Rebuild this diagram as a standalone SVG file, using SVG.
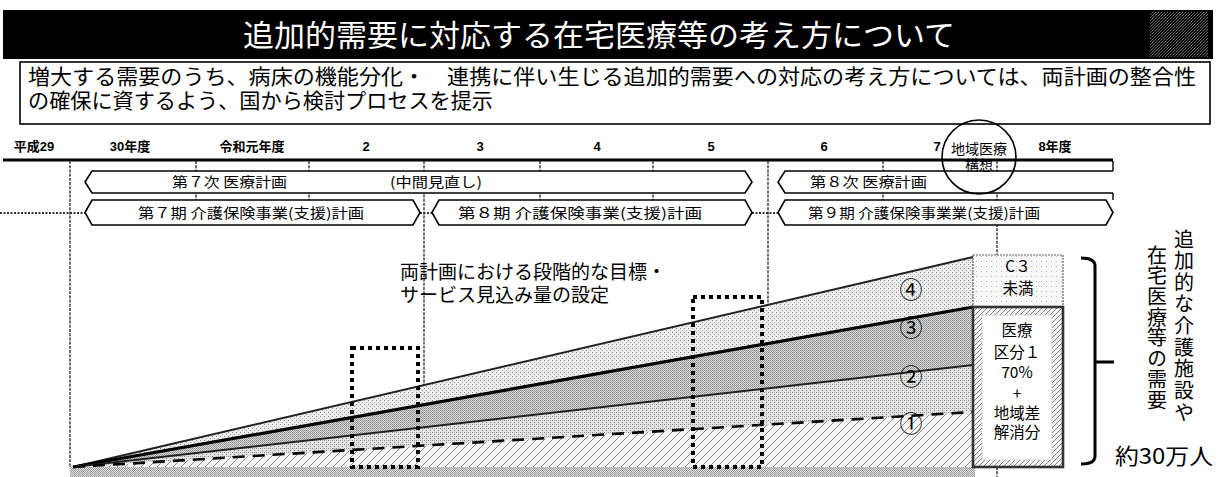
<svg xmlns="http://www.w3.org/2000/svg" width="1218" height="477" viewBox="0 0 1218 477">
<style>
.jp{font-family:"Noto Sans CJK JP","Noto Sans",sans-serif;fill:#000}
.yr{font-family:"Liberation Sans","Noto Sans CJK JP",sans-serif;font-weight:bold;font-size:13px;fill:#000;text-anchor:middle}
.bar{fill:#fff;stroke:#000;stroke-width:1.6}
.bt{font-family:"Noto Sans CJK JP",sans-serif;font-size:14px;fill:#000}
.vd{stroke:#333;stroke-width:1.4;stroke-dasharray:3 1.2;fill:none}
.conn{stroke:#333;stroke-width:2;stroke-dasharray:2 1.5;fill:none}
.dotbox{fill:none;stroke:#000;stroke-width:4;stroke-dasharray:4 4}
.num{font-family:"Noto Sans CJK JP",sans-serif;font-size:23px;fill:#000;text-anchor:middle}
.bx{font-family:"Noto Sans CJK JP",sans-serif;font-size:15.5px;fill:#000;text-anchor:middle}
.vt{font-family:"Noto Sans CJK JP",sans-serif;font-size:20px;fill:#000;writing-mode:vertical-rl}
</style>
<defs>
<pattern id="pDither" width="3" height="3" patternUnits="userSpaceOnUse"><rect width="3" height="3" fill="#000"/><rect width="1" height="1" fill="#777"/><rect x="2" y="1" width="1" height="1" fill="#555"/><rect x="1" y="2" width="1" height="1" fill="#666"/></pattern>
<pattern id="p4" width="4" height="4" patternUnits="userSpaceOnUse"><rect width="4" height="4" fill="#ececec"/><rect width="1" height="1" fill="#8c8c8c"/><rect x="2" y="2" width="1" height="1" fill="#a8a8a8"/></pattern>
<pattern id="p3" width="2" height="2" patternUnits="userSpaceOnUse"><rect width="2" height="2" fill="#dadada"/><rect width="1" height="1" fill="#8a8a8a"/><rect x="1" y="1" width="1" height="1" fill="#9c9c9c"/></pattern>
<pattern id="p2" width="4" height="4" patternUnits="userSpaceOnUse"><rect width="4" height="4" fill="#e2e2e2"/><rect width="1" height="1" fill="#8c8c8c"/><rect x="2" y="2" width="1" height="1" fill="#8c8c8c"/><rect x="2" width="1" height="1" fill="#b0b0b0"/></pattern>
<pattern id="p1" width="8" height="8" patternUnits="userSpaceOnUse"><rect width="8" height="8" fill="#f3f3f3"/><path d="M0,8 L8,0 M-2,2 L2,-2 M6,10 L10,6" stroke="#8a8a8a" stroke-width="1"/></pattern>
<pattern id="pBand" width="2" height="2" patternUnits="userSpaceOnUse"><rect width="2" height="2" fill="#e4e4e4"/><rect width="1" height="1" fill="#999"/><rect x="1" y="1" width="1" height="1" fill="#999"/></pattern>
<pattern id="pBox" width="5" height="5" patternUnits="userSpaceOnUse"><rect width="5" height="5" fill="#f4f4f4"/><path d="M0,5 L5,0 M-1,1 L1,-1 M4,6 L6,4" stroke="#777" stroke-width="0.9"/></pattern>
<pattern id="pC3" width="5" height="5" patternUnits="userSpaceOnUse"><rect width="5" height="5" fill="#f7f7f7"/><rect x="1" y="1" width="1" height="1" fill="#bbb"/></pattern>
</defs>
<rect width="1218" height="477" fill="#fff"/>

<g id="title">
<rect x="3" y="10" width="1210" height="49" fill="#000"/>
<rect x="1150" y="12" width="58" height="45" fill="url(#pDither)"/>
<text class="jp" x="243" y="45.5" font-size="30" style="fill:#fff" textLength="712" lengthAdjust="spacingAndGlyphs">追加的需要に対応する在宅医療等の考え方について</text>
</g>

<g id="subtitle">
<rect x="20" y="62" width="1190" height="62" fill="#fff" stroke="#000" stroke-width="1.6"/>
<text class="jp" x="28" y="84" font-size="21" textLength="1168" lengthAdjust="spacingAndGlyphs">増大する需要のうち、病床の機能分化・　連携に伴い生じる追加的需要への対応の考え方については、両計画の整合性</text>
<text class="jp" x="28" y="108" font-size="21" textLength="465" lengthAdjust="spacingAndGlyphs">の確保に資するよう、国から検討プロセスを提示</text>
</g>

<g id="timeline">
<text class="yr" x="34" y="151">平成29</text>
<text class="yr" x="130" y="151">30年度</text>
<text class="yr" x="252" y="151">令和元年度</text>
<text class="yr" x="366" y="151">2</text>
<text class="yr" x="480" y="151">3</text>
<text class="yr" x="597" y="151">4</text>
<text class="yr" x="711" y="151">5</text>
<text class="yr" x="824" y="151">6</text>
<text class="yr" x="937" y="151">7</text>
<text class="yr" x="1055" y="151">8年度</text>
<line x1="3" y1="160" x2="1113" y2="160" stroke="#000" stroke-width="3"/>
</g>

<g id="gridlines">
<line class="vd" x1="70" y1="161" x2="70" y2="467"/>
<line class="vd" x1="196" y1="161" x2="196" y2="200"/>
<line class="vd" x1="309" y1="161" x2="309" y2="200"/>
<line class="vd" x1="424" y1="161" x2="424" y2="385"/>
<line class="vd" x1="540" y1="161" x2="540" y2="200"/>
<line class="vd" x1="653" y1="161" x2="653" y2="200"/>
<line class="vd" x1="768" y1="161" x2="768" y2="306"/>
<line class="vd" x1="883" y1="161" x2="883" y2="200"/>
<line class="vd" x1="997" y1="161" x2="997" y2="255"/>
<line class="vd" x1="997" y1="467" x2="997" y2="477"/>
</g>

<g id="connectors">
<line class="conn" x1="0" y1="213" x2="85" y2="213"/>
<line class="conn" x1="420" y1="213" x2="432" y2="213"/>
<line class="conn" x1="752" y1="213" x2="778" y2="213"/>
<path d="M1113,161 V171 M1113,193 V200" stroke="#000" stroke-width="1.4" fill="none"/>
</g>

<g id="bar-iryo7">
<polygon class="bar" points="85,182 92,171 745,171 752,182 745,193 92,193"/>
<text class="bt" x="172" y="187" textLength="115" lengthAdjust="spacingAndGlyphs">第７次 医療計画</text>
<text class="bt" x="390" y="187" textLength="92" lengthAdjust="spacingAndGlyphs">(中間見直し)</text>
</g>
<g id="bar-kaigo7">
<polygon class="bar" points="85,212.5 92,200 413,200 420,212.5 413,225 92,225"/>
<text class="bt" x="138" y="218" textLength="226" lengthAdjust="spacingAndGlyphs">第７期 介護保険事業(支援)計画</text>
</g>
<g id="bar-kaigo8">
<polygon class="bar" points="432,212.5 439,200 745,200 752,212.5 745,225 439,225"/>
<text class="bt" x="458" y="218" textLength="244" lengthAdjust="spacingAndGlyphs">第８期 介護保険事業(支援)計画</text>
</g>
<g id="bar-iryo8">
<path class="bar" d="M1113,171 H785 L778,182 L785,193 H1113"/>
<text class="bt" x="810" y="187" textLength="117" lengthAdjust="spacingAndGlyphs">第８次 医療計画</text>
</g>
<g id="bar-kaigo9">
<polygon class="bar" points="778,212.5 785,200 1106,200 1113,212.5 1106,225 785,225"/>
<text class="bt" x="808" y="218" textLength="232" lengthAdjust="spacingAndGlyphs">第９期 介護保険事業業(支援)計画</text>
</g>

<g id="chiiki-kousou">
<circle cx="979" cy="157" r="37" fill="none" stroke="#000" stroke-width="1.6"/>
<text class="jp" x="979" y="154" font-size="14" text-anchor="middle">地域医療</text>
<text class="jp" x="979" y="170" font-size="14" text-anchor="middle">構想</text>
</g>

<g id="chart">
<rect x="70" y="467" width="905" height="10" fill="url(#pBand)"/>
<polygon points="73,467 973,257 973,307" fill="url(#p4)"/>
<polygon points="73,467 973,307 973,365" fill="url(#p3)"/>
<polygon points="73,467 973,365 973,412" fill="url(#p2)"/>
<polygon points="73,467 973,412 973,467" fill="url(#p1)"/>
<line x1="73" y1="467" x2="973" y2="257" stroke="#222" stroke-width="2"/>
<line x1="73" y1="467" x2="973" y2="307" stroke="#000" stroke-width="3.2"/>
<line x1="73" y1="467" x2="973" y2="365" stroke="#222" stroke-width="2"/>
<line x1="73" y1="467" x2="973" y2="412" stroke="#000" stroke-width="2.6" stroke-dasharray="12 8"/>
<text class="num" x="911" y="298">④</text>
<text class="num" x="911" y="336">③</text>
<text class="num" x="911" y="385">②</text>
<text class="num" x="911" y="432">①</text>
</g>

<g id="stage-note">
<text class="jp" x="400" y="279" font-size="19">両計画における段階的な目標・</text>
<text class="jp" x="400" y="302" font-size="19">サービス見込み量の設定</text>
</g>

<g id="dotbox-1"><rect class="dotbox" x="352" y="348" width="66" height="119"/></g>
<g id="dotbox-2"><rect class="dotbox" x="693" y="297" width="69" height="170"/></g>

<g id="box-c3">
<rect x="973" y="255" width="90" height="52" fill="url(#pC3)" stroke="#666" stroke-width="1.2" stroke-dasharray="2 1"/>
<text class="bx" x="1018" y="272" font-size="17">C３</text>
<text class="bx" x="1018" y="294">未満</text>
</g>
<g id="box-iryo">
<rect x="973" y="307" width="90" height="160" fill="url(#pBox)" stroke="#333" stroke-width="2.6"/>
<rect x="982" y="315" width="70" height="145" fill="#fff" stroke="#bbb" stroke-width="0.8" stroke-dasharray="2 1"/>
<text class="bx" x="1017" y="336">医療</text>
<text class="bx" x="1017" y="358">区分１</text>
<text class="bx" x="1017" y="378">70%</text>
<text class="bx" x="1017" y="399">+</text>
<text class="bx" x="1017" y="419">地域差</text>
<text class="bx" x="1017" y="438">解消分</text>
</g>

<g id="bracket">
<path d="M1081,258 Q1095,258 1095,266 V456 Q1095,464 1081,464 M1095,362 H1114" fill="none" stroke="#000" stroke-width="3"/>
</g>

<g id="demand-label">
<text class="vt" x="1184" y="229" textLength="193" lengthAdjust="spacing">追加的な介護施設や</text>
<text class="vt" x="1157" y="245" textLength="165" lengthAdjust="spacing">在宅医療等の需要</text>
<text class="jp" x="1115" y="464" font-size="22" textLength="98" lengthAdjust="spacingAndGlyphs">約30万人</text>
</g>
</svg>
